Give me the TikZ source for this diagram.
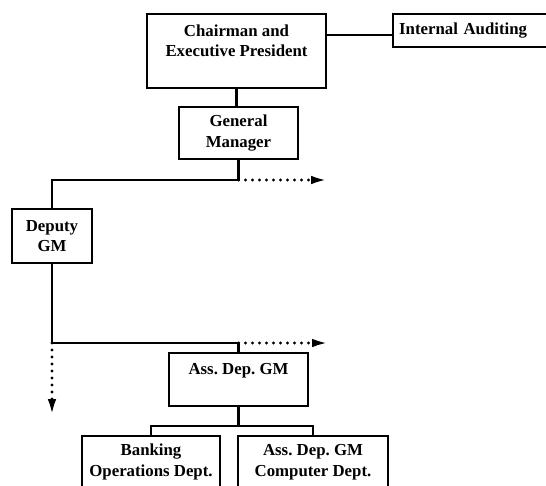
\documentclass[tikz,border=0pt]{standalone}
\usepackage{fontspec}
\setmainfont{Liberation Serif}
\usetikzlibrary{arrows.meta}
\begin{document}
\frenchspacing
\begin{tikzpicture}[x=1pt,y=-1pt,
  box/.style={draw, line width=2.3pt, align=center, inner sep=0pt,
    font=\bfseries\fontsize{16.8}{20.5}\selectfont},
  conn/.style={line width=2.2pt},
  dots/.style={line width=3.2pt, line cap=round, dash pattern=on 0pt off 7pt},
  tip/.style={-{Latex[length=17pt,width=8.5pt]}}]
\useasboundingbox (0,0) rectangle (546,485);
\clip (0,0) rectangle (546,485);

% boxes
\node[box, minimum width=179, minimum height=74] (chair) at (236.5,51)
  {Chairman and\\Executive President\\\mbox{}};
\node[box, anchor=west, text width=190, align=left, inner xsep=6pt,
  minimum height=33] (audit) at (392,30.5) {Internal Auditing};
\node[box, minimum width=119, minimum height=52] (gm) at (238.5,133)
  {General\\Manager};
\node[box, minimum width=80, minimum height=54] (dep) at (52,236)
  {Deputy\\GM};
\node[box, minimum width=139, minimum height=53] (adgm) at (238.5,379.5)
  {Ass. Dep. GM\\\mbox{}};
\node[box, minimum width=138, minimum height=52] (bank) at (151,462)
  {Banking\\Operations Dept.};
\node[box, minimum width=150, minimum height=52] (comp) at (313,462)
  {Ass. Dep. GM\\Computer Dept.};

% connector levels and free arrow ends
\coordinate (row1) at (0,180);
\coordinate (row2) at (0,343);
\coordinate (row3) at (0,426);
\coordinate (e1) at (328,180);
\coordinate (e2) at (329,343);
\coordinate (e3) at (52,416);

% connectors
\draw[conn] ([yshift=-4.5pt]audit.west) -- ([yshift=-4.5pt]audit.west -| chair.east);
\draw[conn] (chair.south) -- (chair.south |- gm.north);
\draw[conn] (gm.south) -- (gm.south |- row1) -| (dep.north);
\draw[dots, tip] (gm.south |- row1) -- (e1);
\draw[conn] (dep.south) -- (dep.south |- row2) -| (adgm.north);
\draw[dots, tip] (adgm.north |- row2) -- (e2);
\draw[dots, tip] (dep.south |- row2) -- (e3);
\draw[conn] (adgm.south) -- (adgm.south |- row3);
\draw[conn] (bank.north) -- (bank.north |- row3) -- (comp.north |- row3) -- (comp.north);
\end{tikzpicture}
\end{document}
